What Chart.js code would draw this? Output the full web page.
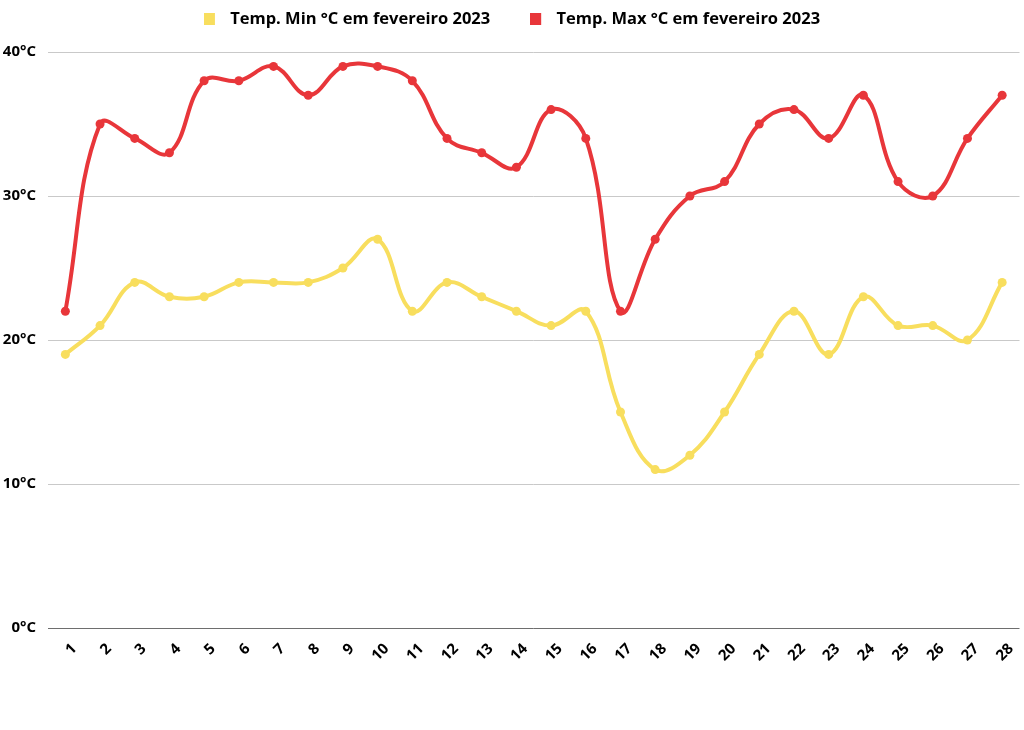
<!DOCTYPE html>
<html>
<head>
<meta charset="utf-8">
<script src="https://cdn.jsdelivr.net/npm/chart.js@4.4.0/dist/chart.umd.min.js"></script>
<style>
    html, body { margin: 0; padding: 0; background: #fff; }
    #wrap { width: 1024px; height: 730px; }
</style>
</head>
<body>
<div id="wrap"><canvas id="tempChart"></canvas></div>
<script>
// Chart data (February 2023)
const days = ['1','2','3','4','5','6','7','8','9','10','11','12','13','14',
              '15','16','17','18','19','20','21','22','23','24','25','26','27','28'];
const tempMin = [19, 21, 24, 23, 23, 24, 24, 24, 25, 27, 22, 24, 23, 22,
                 21, 22, 15, 11, 12, 15, 19, 22, 19, 23, 21, 21, 20, 24];
const tempMax = [22, 35, 34, 33, 38, 38, 39, 37, 39, 39, 38, 34, 33, 32,
                 36, 34, 22, 27, 30, 31, 35, 36, 34, 37, 31, 30, 34, 37];
const yTicks = [0, 10, 20, 30, 40];

const YELLOW = '#F8DE5E';
const RED = '#E8363A';
const FONT = '"Open Sans", sans-serif';

// legend marker: small square with blank space on its right (gap before the text)
function legendSquare(color) {
    const c = document.createElement('canvas');
    c.width = 18;
    c.height = 12;
    const g = c.getContext('2d');
    g.fillStyle = color;
    g.fillRect(0, 0, 11, 12);
    return c;
}

const LEGEND_PAD = 40;
const LEGEND_TOP = 11;
const LEGEND_HEIGHT = 52;

// keep the legend row short even with wide gaps between items
const legendHeightFix = {
    id: 'legendHeightFix',
    beforeInit(chart) {
        const legend = chart.legend;
        if (!legend) return;
        const origFit = legend.fit.bind(legend);
        legend.fit = function () {
            origFit();
            this.height = LEGEND_HEIGHT + LEGEND_PAD - LEGEND_TOP;
        };
    }
};

const ctx = document.getElementById('tempChart');

new Chart(ctx, {
    type: 'line',
    data: {
        labels: days,
        datasets: [
            {
                label: 'Temp. Min °C em fevereiro 2023',
                data: tempMin,
                borderColor: YELLOW,
                backgroundColor: YELLOW,
                borderWidth: 4,
                pointRadius: 4.5,
                pointBorderWidth: 0,
                tension: 0.4,
                order: 1
            },
            {
                label: 'Temp. Max °C em fevereiro 2023',
                data: tempMax,
                borderColor: RED,
                backgroundColor: RED,
                borderWidth: 4,
                pointRadius: 4.5,
                pointBorderWidth: 0,
                tension: 0.4,
                order: 0
            }
        ]
    },
    plugins: [legendHeightFix],
    options: {
        responsive: true,
        maintainAspectRatio: false,
        animation: false,
        layout: { padding: { left: 0, right: 0, top: LEGEND_TOP - LEGEND_PAD, bottom: 0 } },
        plugins: {
            legend: {
                position: 'top',
                labels: {
                    usePointStyle: true,
                    pointStyleWidth: 18,
                    boxHeight: 12,
                    padding: LEGEND_PAD,
                    color: '#000',
                    font: { family: FONT, size: 16.5, weight: 'bold' },
                    generateLabels(chart) {
                        return chart.data.datasets.map((ds, i) => ({
                            text: ds.label,
                            fillStyle: ds.backgroundColor,
                            strokeStyle: ds.backgroundColor,
                            fontColor: '#000',
                            lineWidth: 0,
                            pointStyle: legendSquare(ds.backgroundColor),
                            hidden: !chart.isDatasetVisible(i),
                            datasetIndex: i
                        }));
                    }
                }
            },
            tooltip: { enabled: false }
        },
        scales: {
            x: {
                offset: true,
                grid: { display: false, drawTicks: false },
                border: { display: false },
                ticks: {
                    minRotation: 45,
                    maxRotation: 45,
                    padding: 12,
                    labelOffset: 9,
                    color: '#000',
                    font: { family: FONT, size: 15, weight: 'bold' }
                },
                afterFit(scale) {
                    scale.height = 102;
                    scale.paddingLeft = 0;
                    scale.paddingRight = 0;
                }
            },
            y: {
                min: 0,
                max: 40,
                afterBuildTicks(scale) {
                    scale.ticks = yTicks.map(v => ({ value: v }));
                },
                grid: {
                    drawTicks: false,
                    lineWidth: 1,
                    color: c => (c.tick && c.tick.value === 0) ? '#6e6e6e' : '#c9c9c9'
                },
                border: { display: false },
                ticks: {
                    padding: 12,
                    color: '#000',
                    font: { family: FONT, size: 15, weight: 'bold' },
                    callback: v => v + '°C'
                },
                afterFit(scale) { scale.width = 48; }
            }
        }
    }
});
</script>
</body>
</html>
